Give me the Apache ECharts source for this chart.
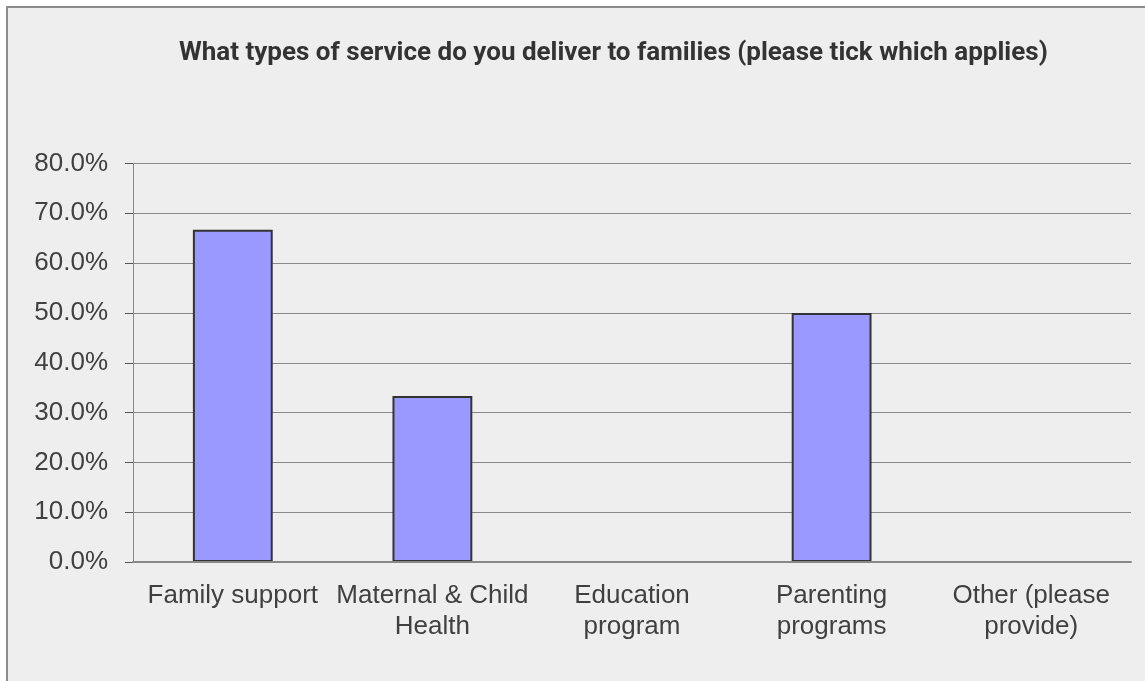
<!DOCTYPE html>
<html>
<head>
<meta charset="utf-8">
<script src="https://cdn.jsdelivr.net/npm/echarts@6/dist/echarts.min.js"></script>
<style>
  html, body { margin: 0; padding: 0; background: #fff; overflow: hidden; }
  #frame {
    position: absolute; left: 6px; top: 6px;
    width: 1139px; height: 675px;
    border-left: 2px solid #8c8c8c; border-top: 2px solid #8c8c8c;
    background: #eeeeee;
  }
  #main { width: 1139px; height: 675px; }
</style>
</head>
<body>
<div id="frame"><div id="main"></div></div>
<script>
var titleText = 'What types of service do you deliver to families (please tick which applies)';
var categories = ['Family support', 'Maternal & Child\nHealth', 'Education\nprogram', 'Parenting\nprograms', 'Other (please\nprovide)'];
var shares = [66.7, 33.3, 0, 50.0, 0];
var yTicks = { min: 0, max: 80, interval: 10 };

var chart = echarts.init(document.getElementById('main'));

var option = {
    backgroundColor: '#eeeeee',
    animation: false,
    title: {
        text: titleText,
        left: 166,
        top: 27,
        textStyle: {
            fontFamily: 'Roboto',
            fontWeight: 'bold',
            fontSize: 26,
            color: '#333333'
        }
    },
    grid: {
        left: 125,
        right: 16,
        top: 155.5,
        bottom: 121
    },
    xAxis: {
        type: 'category',
        data: categories,
        z: 3,
        axisLine: { lineStyle: { color: '#888888', width: 2 } },
        axisTick: { length: 8, lineStyle: { color: '#555555' } },
        axisLabel: {
            margin: 18,
            fontFamily: 'Liberation Sans',
            fontSize: 26,
            lineHeight: 31,
            color: '#404040',
            interval: 0
        }
    },
    yAxis: {
        type: 'value',
        min: yTicks.min,
        max: yTicks.max,
        interval: yTicks.interval,
        axisLine: { show: true, lineStyle: { color: '#888888', width: 1 } },
        axisTick: { show: true, length: 8, lineStyle: { color: '#555555' } },
        splitLine: { lineStyle: { color: '#888888', width: 1 } },
        axisLabel: {
            margin: 25,
            fontFamily: 'Liberation Sans',
            fontSize: 26,
            color: '#404040',
            formatter: function (v) { return v.toFixed(1) + '%'; }
        }
    },
    series: [
        {
            type: 'bar',
            data: shares,
            barWidth: '40%',
            itemStyle: {
                color: '#9999ff',
                borderColor: '#333333',
                borderWidth: 2
            }
        }
    ]
};

chart.setOption(option);
</script>
</body>
</html>
